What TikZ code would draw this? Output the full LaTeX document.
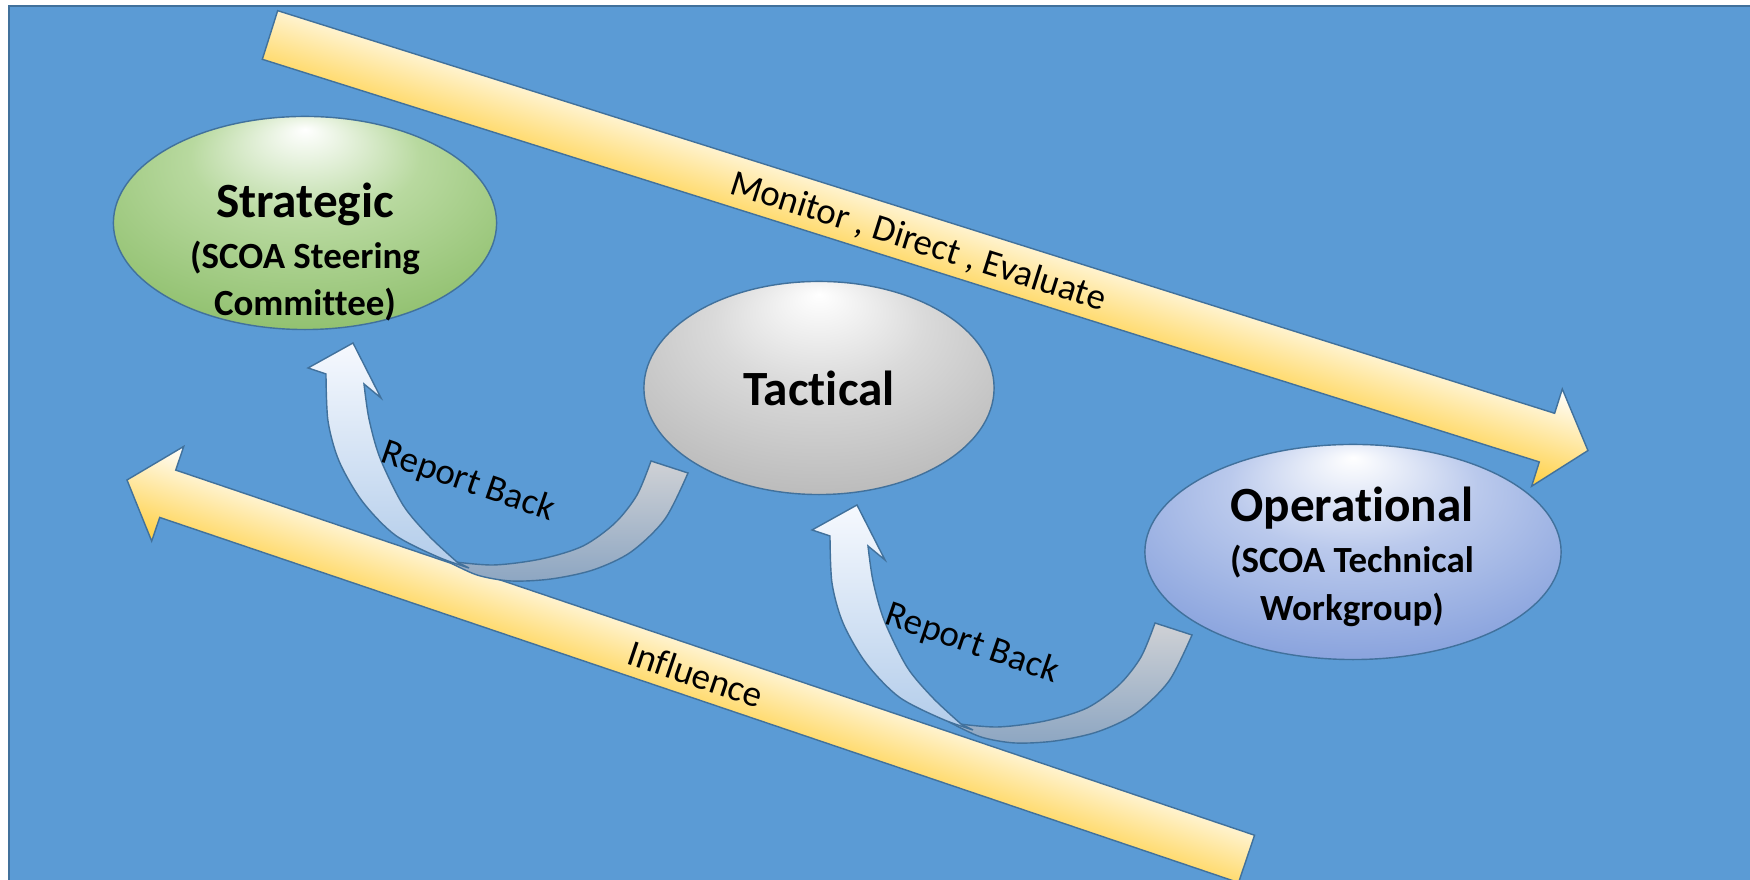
\documentclass[tikz,border=0pt]{standalone}
\usepackage{fontspec}
\setmainfont{Carlito}[Ligatures=NoCommon]
\usetikzlibrary{shapes.geometric}
\definecolor{PanelBlue}{HTML}{5B9BD5}
\definecolor{PanelLine}{HTML}{41719C}
\definecolor{BandLight}{HTML}{FFFFFF}
\definecolor{BandGold}{HTML}{FFCF40}
\definecolor{StratMid}{HTML}{B8D99F}
\definecolor{StratEdge}{HTML}{6DAA43}
\definecolor{TactMid}{HTML}{DADADA}
\definecolor{TactEdge}{HTML}{9E9E9E}
\definecolor{OperMid}{HTML}{BAC9EC}
\definecolor{OperEdge}{HTML}{5A7ECF}
\definecolor{ReportTop}{HTML}{F6F9FE}
\definecolor{ReportBottom}{HTML}{B2CCEA}
\definecolor{ReturnTop}{HTML}{CFD1D5}
\definecolor{ReturnBottom}{HTML}{8DA6C2}
\pgfdeclareradialshading{strategicglow}{\pgfpoint{0bp}{22bp}}{color(0bp)=(white); color(15bp)=(StratMid); color(50bp)=(StratEdge)}
\pgfdeclareradialshading{tacticalglow}{\pgfpoint{0bp}{22bp}}{color(0bp)=(white); color(15bp)=(TactMid); color(50bp)=(TactEdge)}
\pgfdeclareradialshading{operationalglow}{\pgfpoint{0bp}{22bp}}{color(0bp)=(white); color(15bp)=(OperMid); color(50bp)=(OperEdge)}

\begin{document}
\begin{tikzpicture}[x=0.01cm,y=-0.01cm]
    \tikzset{levelnode/.style={ellipse,draw=PanelLine,line width=0.4pt,inner sep=0pt,shade},
      leveltext/.style={align=center,font=\fontsize{10.5}{13.5}\selectfont\bfseries},
      bandarrow/.style={draw=PanelLine,line width=0.4pt,top color=BandLight,bottom color=BandGold},
      bandlabel/.style={font=\fontsize{10.5}{12}\selectfont},
      reportfront/.style={draw=PanelLine,line width=0.4pt,top color=ReportTop,bottom color=ReportBottom},
      reportback/.style={draw=PanelLine,line width=0.4pt,top color=ReturnTop,bottom color=ReturnBottom}}
    \path[use as bounding box,clip] (0,0) rectangle (1750,880);
    \fill[PanelBlue] (9,6) rectangle (1760,890);
    \draw[PanelLine,line width=0.6pt] (9,890) -- (9,6) -- (1760,6);
    % long arrows
    \begin{scope}[transform canvas={shift={(270,35)},rotate=-17.5}]
      \path[bandarrow] (0,-25.5) -- (1339,-25.5) -- (1339,-51) -- (1382,0) -- (1339,51) -- (1339,25.5) -- (0,25.5) -- cycle;
    \end{scope}
    \begin{scope}[transform canvas={shift={(127,480)},rotate=-18.7}]
      \path[bandarrow] (0,0) -- (43,-50) -- (43,-25) -- (1182,-25) -- (1182,25) -- (43,25) -- (43,50) -- cycle;
    \end{scope}
    \node[bandlabel,rotate=-17.5] (monitor) at (918,242) {Monitor , Direct , Evaluate};
    \node[bandlabel,rotate=-18.7] (influence) at (696,674) {Influence};
    % levels
    \node[levelnode,minimum width=3.83cm,minimum height=2.13cm,shading=strategicglow] (strategic) at (305,223) {};
    \node[levelnode,minimum width=3.5cm,minimum height=2.13cm,shading=tacticalglow] (tactical) at (819,388) {};
    \node[levelnode,minimum width=4.16cm,minimum height=2.15cm,shading=operationalglow] (operational) at (1353,552) {};
    \node[leveltext] (strategictext) at (305,252) {{\fontsize{14}{14}\selectfont Strategic}\\[1pt](SCOA Steering\\Committee)};
    \node[font=\fontsize{14}{14}\selectfont\bfseries] (tacticaltext) at (tactical) {Tactical};
    \node[leveltext] (operationaltext) at (1352,557) {{\fontsize{14}{14}\selectfont Operational}\\[1pt](SCOA Technical\\Workgroup)};
    % report back arrows
    \foreach \tipx/\tipy/\name in {353/343/upper,857/505/lower} {
      \begin{scope}[shift={(\tipx,\tipy)}]
        \path[reportback] (298,118) -- (335,130) -- plot[smooth] coordinates {(335,130) (312,176) (278,209) (240,227) (198,236) (158,238) (124,232) (94,218)}
          -- plot[smooth] coordinates {(94,218) (140,222) (188,216) (230,203) (262,180) (284,152) (298,118)} -- cycle;
        \path[reportfront] (0,0) -- (-45,25) -- (-27,31) -- plot[smooth] coordinates {(-27,31) (-25,78) (-14,118) (9,158) (42,192) (85,214) (116,225)}
          -- plot[smooth] coordinates {(104,219) (76,193) (50,162) (27,115) (16,76) (11,41)} -- (28,55) -- cycle;
        \node[bandlabel,rotate=-19] (report\name) at (115,139) {Report Back};
      \end{scope}
    }
  \end{tikzpicture}
\end{document}
